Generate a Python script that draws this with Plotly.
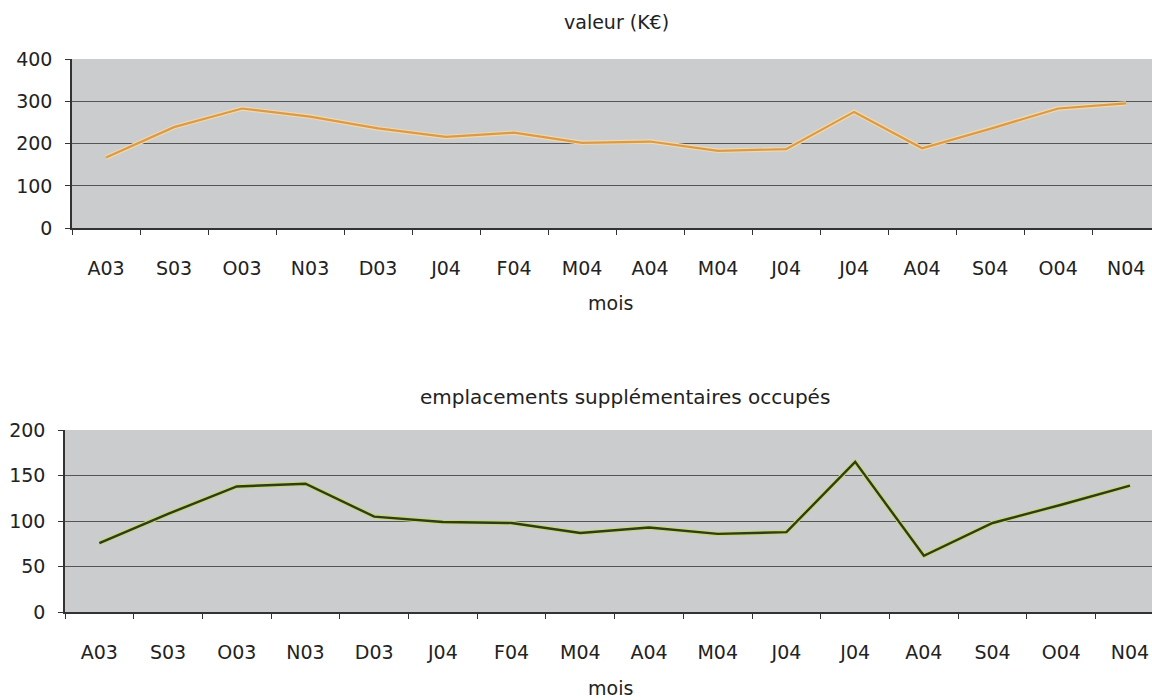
import plotly.graph_objects as go

# Monthly data, Aug 2003 - Nov 2004
mois = ["A03", "S03", "O03", "N03", "D03", "J04", "F04", "M04",
        "A04", "M04", "J04", "J04", "A04", "S04", "O04", "N04"]
valeur = [167, 239, 283, 264, 236, 216, 226, 202, 205, 183, 187, 275, 189, 235, 283, 295]
emplacements = [76, 108, 138, 141, 105, 99, 98, 87, 93, 86, 88, 165, 62, 98, 118, 139]

W, H = 1152, 700
idx = list(range(len(mois)))
bounds = [i - 0.5 for i in range(len(mois) + 1)]

FONT = "DejaVu Sans"
TXT = "#222222"
PLOT_BG = "#cbcccd"
GRID = "#555555"
AXIS = "#333333"

fig = go.Figure()

# top panel: value in k€ (pale halo under an orange line)
fig.add_trace(go.Scatter(x=idx, y=valeur, mode="lines", xaxis="x", yaxis="y",
                         line=dict(color="#f3d9a6", width=4.5), hoverinfo="skip"))
fig.add_trace(go.Scatter(x=idx, y=valeur, mode="lines", xaxis="x", yaxis="y",
                         line=dict(color="#d99a4e", width=2.2), name="valeur (K€)"))

# bottom panel: extra occupied slots (yellow-green halo under dark green line)
fig.add_trace(go.Scatter(x=idx, y=emplacements, mode="lines", xaxis="x2", yaxis="y2",
                         line=dict(color="#c9d66e", width=4.5), hoverinfo="skip"))
fig.add_trace(go.Scatter(x=idx, y=emplacements, mode="lines", xaxis="x2", yaxis="y2",
                         line=dict(color="#2c3d1c", width=2.4), name="emplacements"))


def xaxis_cfg(left_px, right_range):
    return dict(
        domain=[left_px / W, 1.0],
        range=[-0.5, right_range],
        tickmode="array", tickvals=idx, ticktext=mois,
        ticks="", showgrid=False, zeroline=False,
        showline=True, linecolor=AXIS, linewidth=1.5,
        ticklabelstandoff=22,
        tickfont=dict(family=FONT, size=19, color=TXT),
        minor=dict(tickmode="array", tickvals=bounds, ticks="outside",
                   ticklen=5, tickcolor=AXIS, tickwidth=1, showgrid=False),
        fixedrange=True,
    )


def yaxis_cfg(top_px, bottom_px, ymax, step):
    return dict(
        domain=[1 - bottom_px / H, 1 - top_px / H],
        range=[0, ymax], tickmode="linear", tick0=0, dtick=step,
        showgrid=True, gridcolor=GRID, gridwidth=1,
        zeroline=False, showline=True, linecolor=AXIS, linewidth=1.5,
        ticks="outside", ticklen=5, tickcolor=AXIS,
        ticklabelstandoff=9,
        tickfont=dict(family=FONT, size=19, color=TXT),
        fixedrange=True,
    )


fig.update_layout(
    width=W, height=H,
    margin=dict(l=0, r=0, t=0, b=0, autoexpand=False),
    paper_bgcolor="white",
    plot_bgcolor=PLOT_BG,
    showlegend=False,
    xaxis=dict(anchor="y", **xaxis_cfg(72, 15.38)),
    yaxis=dict(anchor="x", **yaxis_cfg(59, 228.3, 400, 100)),
    xaxis2=dict(anchor="y2", **xaxis_cfg(65, 15.32)),
    yaxis2=dict(anchor="x2", **yaxis_cfg(430, 612.3, 200, 50)),
)


def label(text, x_px, y_px, size=19):
    fig.add_annotation(text=text, x=x_px / W, y=1 - y_px / H,
                       xref="paper", yref="paper", showarrow=False,
                       xanchor="center", yanchor="middle",
                       font=dict(family=FONT, size=size, color=TXT))


label("valeur (K€)", 616, 22, 19)
label("mois", 610, 303, 19)
label("emplacements supplémentaires occupés", 625, 397, 20)
label("mois", 610, 688, 19)

fig.write_html("out.html")
